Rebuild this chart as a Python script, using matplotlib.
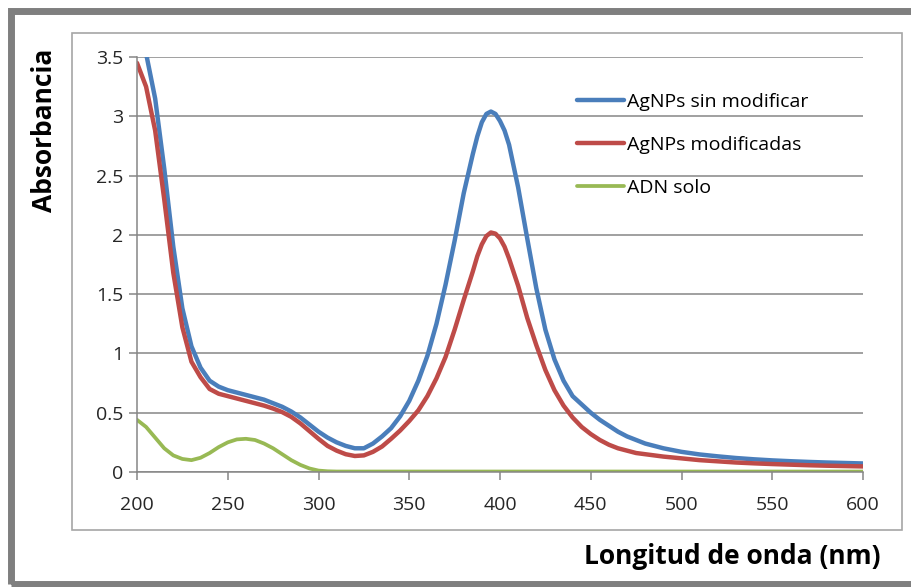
import matplotlib
matplotlib.use("Agg")
import matplotlib.pyplot as plt
from matplotlib.patches import Rectangle

# --- DATA ---
wl = [200, 205, 210, 215, 220, 225, 230, 235, 240, 245, 250, 255, 260, 265, 270,
      275, 280, 285, 290, 295, 300, 305, 310, 315, 320, 325, 330, 335, 340, 345,
      350, 355, 360, 365, 370, 375, 380, 385, 387.5, 390, 392.5, 395, 397.5, 400, 402.5,
      405, 410, 415, 420, 425, 430, 435, 440, 445, 450, 455, 460, 465, 470, 475,
      480, 490, 500, 510, 520, 530, 540, 550, 560, 570, 580, 590, 600]

agnps_sin = [3.85, 3.53, 3.15, 2.56, 1.90, 1.38, 1.06, 0.88, 0.77, 0.72, 0.69, 0.67, 0.65, 0.63, 0.61,
             0.58, 0.55, 0.51, 0.46, 0.40, 0.34, 0.29, 0.25, 0.22, 0.20, 0.20, 0.24, 0.30, 0.37, 0.47,
             0.60, 0.77, 0.98, 1.25, 1.58, 1.95, 2.35, 2.68, 2.83, 2.95, 3.02, 3.04, 3.02, 2.96, 2.88,
             2.76, 2.40, 1.97, 1.55, 1.20, 0.95, 0.77, 0.64, 0.57, 0.50, 0.44, 0.39, 0.34, 0.30, 0.27,
             0.24, 0.20, 0.17, 0.148, 0.132, 0.118, 0.107, 0.098, 0.091, 0.085, 0.080, 0.076, 0.072]

agnps_mod = [3.45, 3.25, 2.88, 2.30, 1.68, 1.22, 0.93, 0.80, 0.70, 0.66, 0.64, 0.62, 0.60, 0.58, 0.56,
             0.535, 0.505, 0.465, 0.41, 0.345, 0.28, 0.22, 0.18, 0.15, 0.135, 0.14, 0.17, 0.215, 0.28, 0.35,
             0.43, 0.52, 0.64, 0.79, 0.97, 1.20, 1.45, 1.69, 1.82, 1.92, 1.99, 2.02, 2.01, 1.97, 1.90,
             1.80, 1.57, 1.30, 1.07, 0.86, 0.69, 0.56, 0.46, 0.38, 0.32, 0.27, 0.23, 0.20, 0.18, 0.16,
             0.15, 0.13, 0.115, 0.10, 0.09, 0.08, 0.073, 0.067, 0.062, 0.057, 0.053, 0.050, 0.047]

adn_solo = [0.44, 0.38, 0.29, 0.20, 0.14, 0.11, 0.10, 0.12, 0.16, 0.21, 0.25, 0.275, 0.28, 0.27, 0.24,
            0.20, 0.15, 0.10, 0.06, 0.03, 0.012, 0.006, 0.004, 0.004, 0.004, 0.004, 0.004, 0.004, 0.004, 0.004,
            0.004, 0.004, 0.004, 0.004, 0.004, 0.004, 0.004, 0.004, 0.004, 0.004, 0.004, 0.004, 0.004, 0.004, 0.004,
            0.004, 0.004, 0.004, 0.004, 0.004, 0.004, 0.004, 0.004, 0.004, 0.004, 0.004, 0.004, 0.004, 0.004, 0.004,
            0.004, 0.004, 0.004, 0.004, 0.004, 0.004, 0.004, 0.004, 0.004, 0.004, 0.004, 0.004, 0.004]

labels = ["AgNPs sin modificar", "AgNPs modificadas", "ADN solo"]
colors = ["#4A7EBB", "#BE4B48", "#98B954"]

x_ticks = [200, 250, 300, 350, 400, 450, 500, 550, 600]
y_ticks = [0, 0.5, 1, 1.5, 2, 2.5, 3, 3.5]
y_tick_labels = ["0", "0.5", "1", "1.5", "2", "2.5", "3", "3.5"]

plt.rcParams['font.family'] = ['Open Sans', 'DejaVu Sans']

W, H = 911, 587
fig = plt.figure(figsize=(W / 100, H / 100), dpi=100)

# outer gray frame and inner chart border
fig.patches.append(Rectangle((11 / W, 1 - 584 / H), 960 / W, 573 / H, transform=fig.transFigure,
                             fill=False, edgecolor="#7F7F7F", linewidth=5))
fig.patches.append(Rectangle((72 / W, 1 - 530 / H), 830 / W, 497 / H, transform=fig.transFigure,
                             fill=False, edgecolor="#A6A6A6", linewidth=1.2))

ax = fig.add_axes([137 / W, 1 - 472 / H, 726 / W, 415 / H])

for y, lab, col, lw in zip([agnps_sin, agnps_mod, adn_solo], labels, colors, [3.2, 3.2, 2.7]):
    ax.plot(wl, y, color=col, linewidth=lw, label=lab,
            solid_capstyle='round', solid_joinstyle='round')

ax.set_xlim(200, 600)
ax.set_ylim(0, 3.5)
ax.set_xticks(x_ticks)
ax.set_yticks(y_ticks)
ax.set_yticklabels(y_tick_labels)
ax.grid(axis='y', color="#868686", linewidth=1.1)
ax.set_axisbelow(True)

for s in ['top', 'right']:
    ax.spines[s].set_visible(False)
for s in ['left', 'bottom']:
    ax.spines[s].set_color("#868686")
    ax.spines[s].set_linewidth(1.1)
ax.tick_params(axis='both', colors="#868686", width=1.1, length=6, labelsize=14,
               labelcolor="#262626")
ax.tick_params(axis='x', pad=11)
ax.tick_params(axis='y', pad=4)

fig.text(45 / W, 1 - 130 / H, "Absorbancia", rotation=90, ha='center', va='center',
         fontsize=19, fontweight='bold')
fig.text(881 / W, 1 - 556 / H, "Longitud de onda (nm)", ha='right', va='center',
         fontsize=19, fontweight='bold')

ax.legend(loc='upper left', bbox_to_anchor=(0.593, 0.937), frameon=False, fontsize=14,
          handlelength=2.42, handletextpad=0.15, labelspacing=1.28, borderpad=0)

fig.savefig("out.png", dpi=100)
